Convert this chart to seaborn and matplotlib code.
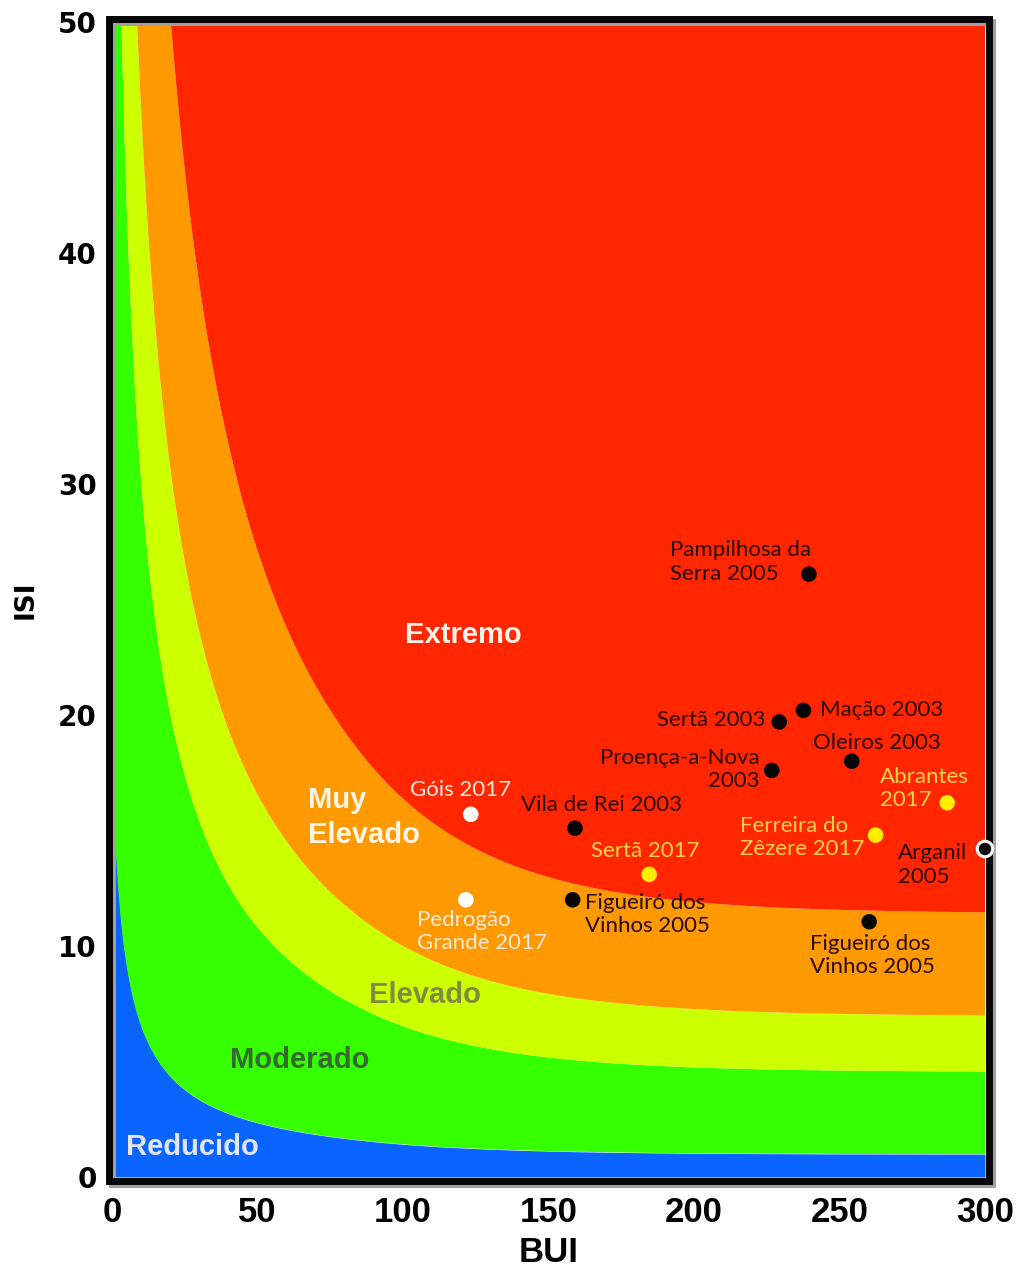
import numpy as np
import pandas as pd
import matplotlib
matplotlib.use("Agg")
import matplotlib.pyplot as plt
from matplotlib.patches import Rectangle
import seaborn as sns

# Danger classes: FWI values that separate them and fill colours
class_names = ["Reducido", "Moderado", "Elevado", "Muy\nElevado", "Extremo"]
class_colors = ["#0a64ff", "#36ff00", "#ccff00", "#ff9900", "#ff2600"]
class_text_colors = ["#e2e6f4", "#346a30", "#7f8c40", "#fff4e8", "#fff2ea"]
fwi_limits = [7.0, 23.5, 31.5, 43.5]

# Fire days (BUI, ISI)
sites = [
    "Pampilhosa da\nSerra 2005", "Mação 2003", "Sertã 2003", "Proença-a-Nova\n2003",
    "Oleiros 2003", "Abrantes\n2017", "Ferreira do\nZêzere 2017", "Arganil\n2005",
    "Vila de Rei 2003", "Góis 2017", "Sertã 2017", "Figueiró dos\nVinhos 2005",
    "Pedrogão\nGrande 2017", "Figueiró dos\nVinhos 2005",
]
bui = [239.5, 237.6, 229.3, 226.7, 254.2, 287.0, 262.4, 300.0,
       159.1, 123.3, 184.6, 158.3, 121.6, 260.2]
isi = [26.1, 20.2, 19.7, 17.6, 18.0, 16.2, 14.8, 14.2,
       15.1, 15.7, 13.1, 12.0, 12.0, 11.05]
group = ["2003/2005", "2003/2005", "2003/2005", "2003/2005", "2003/2005", "2017", "2017",
         "2003/2005", "2003/2005", "2017 junio", "2017", "2003/2005", "2017 junio", "2003/2005"]

group_colors = {"2003/2005": "#050505", "2017": "#ffee00", "2017 junio": "#ffffff"}
label_colors = {"2003/2005": "#2a0804", "2017": "#ffd24a", "2017 junio": "#fbe8de"}

# label placement: offset from the marker in pixels, alignment
label_offsets = [(-139, 12), (17, 0), (-14, 2), (-12, 1), (-39, 18), (-67, 14),
                 (-136, -2), (-87, -16), (27, 23), (-10, 24), (-4, 23), (12, -15),
                 (-49, -32), (-59, -34)]
label_ha = ["left", "left", "right", "right", "left", "left", "left", "left",
            "center", "center", "center", "left", "left", "left"]

# class label anchors (BUI, ISI) and alignment
class_label_pos = [(27.5, 1.3), (64.6, 5.06), (107.6, 7.88), (67.4, 15.56), (120.6, 23.46)]
class_label_ha = ["center", "center", "center", "left", "center"]

df = pd.DataFrame({"site": sites, "BUI": bui, "ISI": isi, "grupo": group})

sns.set_theme(style="white")
plt.rcParams["font.family"] = ["DejaVu Sans"]

W, H = 1016, 1274
fig = plt.figure(figsize=(W / 100, H / 100), dpi=100)
ax = fig.add_axes([112 / W, 1 - 1177 / H, 873 / W, 1155 / H])


def f_d(u):
    """BUI effect term of the Fire Weather Index."""
    return np.where(u <= 80, 0.626 * u ** 0.809 + 2,
                    1000 / (25 + 108.64 * np.exp(-0.023 * u)))


def isi_for_fwi(s, u):
    """ISI that gives a Fire Weather Index of s at build-up index u."""
    b = np.exp((np.log(s) / 2.72) ** (1 / 0.647) / 0.434)
    return 10 * b / f_d(u)


u = np.linspace(0, 300, 1201)
edges = [np.zeros_like(u)] + [isi_for_fwi(s, u) for s in fwi_limits] + [np.full_like(u, 60)]
for k, col in enumerate(class_colors):
    ax.fill_between(u, edges[k], edges[k + 1], color=col, linewidth=0, zorder=1)

for name, (px, py), ha, tc in zip(class_names, class_label_pos, class_label_ha, class_text_colors):
    ax.text(px, py, name, ha=ha, va="center", ma="left", color=tc, fontsize=21,
            fontweight="bold", family=["Liberation Sans", "DejaVu Sans"],
            linespacing=1.3, zorder=4)

edgecols = ["white" if s.startswith("Arganil") else "none" for s in sites]
lws = [2.2 if s.startswith("Arganil") else 0 for s in sites]
sns.scatterplot(data=df, x="BUI", y="ISI", hue="grupo", palette=group_colors,
                s=125, edgecolor=edgecols, linewidth=lws, legend=False,
                ax=ax, zorder=6, clip_on=False)

for name, b, i, g, (dx, dy), ha in zip(sites, bui, isi, group, label_offsets, label_ha):
    ax.annotate(name, xy=(b, i), xytext=(dx, dy), textcoords="offset pixels",
                ha=ha, va="center", ma=ha if ha != "center" else "center",
                color=label_colors[g], fontsize=16, family=["Lato", "DejaVu Sans"],
                linespacing=1.2, zorder=5)

ax.set_xlim(0, 300)
ax.set_ylim(0, 50)
ax.set_xticks(range(0, 301, 50))
ax.set_yticks(range(0, 51, 10))
for sp in ax.spines.values():
    sp.set_visible(False)
ax.tick_params(axis="both", length=0)
ax.tick_params(axis="x", pad=14)
ax.tick_params(axis="y", pad=11)
for t in ax.get_xticklabels():
    t.set_fontfamily(["Liberation Sans", "DejaVu Sans"])
    t.set_fontweight("bold")
    t.set_fontsize(25)
    t.set_color("black")
for t in ax.get_yticklabels():
    t.set_fontfamily(["DejaVu Sans"])
    t.set_fontweight("bold")
    t.set_fontsize(20)
    t.set_color("black")

ax.set_xlabel("BUI", fontsize=25, fontweight="bold", color="black",
              family=["Liberation Sans", "DejaVu Sans"], va="center")
ax.xaxis.set_label_coords(0.5, (1177 - 1252) / 1155)
ax.set_ylabel("ISI", fontsize=19, fontweight="bold", color="black",
              family=["DejaVu Sans"], labelpad=14)

# thick frame with a soft shadow, drawn just outside the plotting area
pxw = 1 / 873
pxh = 1 / 1155
shadow = Rectangle((-0.5 * pxw, -6.5 * pxh), 1 + 7 * pxw, 1 + 7 * pxh,
                   transform=ax.transAxes, fill=False, lw=5, edgecolor="#a0a0a0",
                   clip_on=False, zorder=2.5)
frame = Rectangle((-3.5 * pxw, -3.5 * pxh), 1 + 7 * pxw, 1 + 7 * pxh,
                  transform=ax.transAxes, fill=False, lw=5, edgecolor="#050505",
                  clip_on=False, zorder=3)
ax.add_patch(shadow)
ax.add_patch(frame)
ax.set_xlim(0, 300)
ax.set_ylim(0, 50)

fig.savefig("out.png", dpi=100)
